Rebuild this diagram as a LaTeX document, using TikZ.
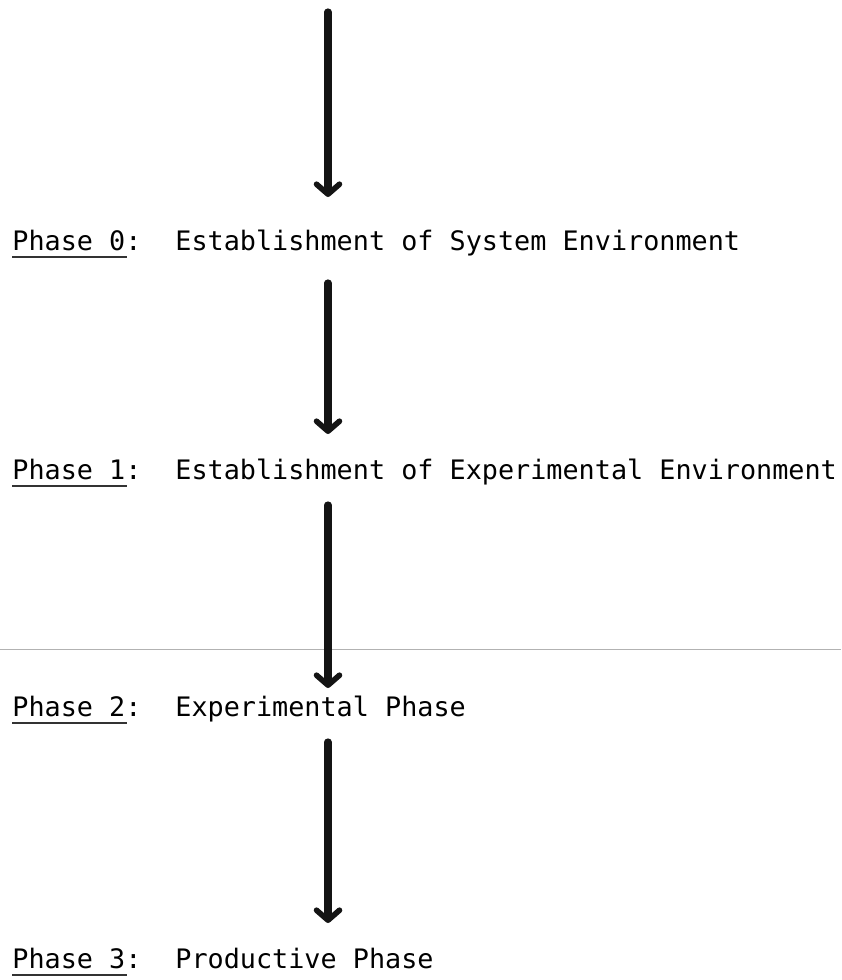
\documentclass[tikz,border=0pt]{standalone}
\usepackage{fontspec}
\setmonofont{DejaVu Sans Mono}
\usetikzlibrary{arrows.meta}
\begin{document}
\begin{tikzpicture}[x=0.5pt,y=-0.5pt,
  phase/.style={anchor=base west,inner sep=0pt,
    font=\ttfamily\fontsize{13.4}{16}\selectfont},
  flow/.style={line width=3.6pt,line cap=round,black!92,
    -{Straight Barb[length=5pt,width=11.5pt,line width=2.8pt,line cap=round,round]}},
  uline/.style={line width=1pt,black!80},
  scanline/.style={line width=0.5pt,black!30}]
\useasboundingbox (0,0) rectangle (841,980);

% faint horizontal rule across the sheet
\draw[scanline] (0,649) -- (841,649);

% phase labels and their descriptions
\node[phase] (p0) at (12,250) {Phase 0:};
\node[phase] (d0) at (175,250) {Establishment of System Environment};
\node[phase] (p1) at (12,479) {Phase 1:};
\node[phase] (d1) at (175,479) {Establishment of Experimental Environment};
\node[phase] (p2) at (12,716) {Phase 2:};
\node[phase] (d2) at (175,716) {Experimental Phase};
\node[phase] (p3) at (12,968) {Phase 3:};
\node[phase] (d3) at (175,968) {Productive Phase};

% underlines beneath "Phase n"
\foreach \n in {p0,p1,p2,p3}
  \draw[uline] (\n.base west) ++(0,7) -- ++(115,0);

% arrow end points on the vertical axis
\coordinate (s0) at (328,12);
\coordinate (e0) at (328,197);
\coordinate (s1) at (328,283);
\coordinate (e1) at (328,434);
\coordinate (s2) at (328,505);
\coordinate (e2) at (328,688);
\coordinate (s3) at (328,742);
\coordinate (e3) at (328,923);

\draw[flow] (s0) -- (e0);
\draw[flow] (s1) -- (e1);
\draw[flow] (s2) -- (e2);
\draw[flow] (s3) -- (e3);
\end{tikzpicture}
\end{document}
